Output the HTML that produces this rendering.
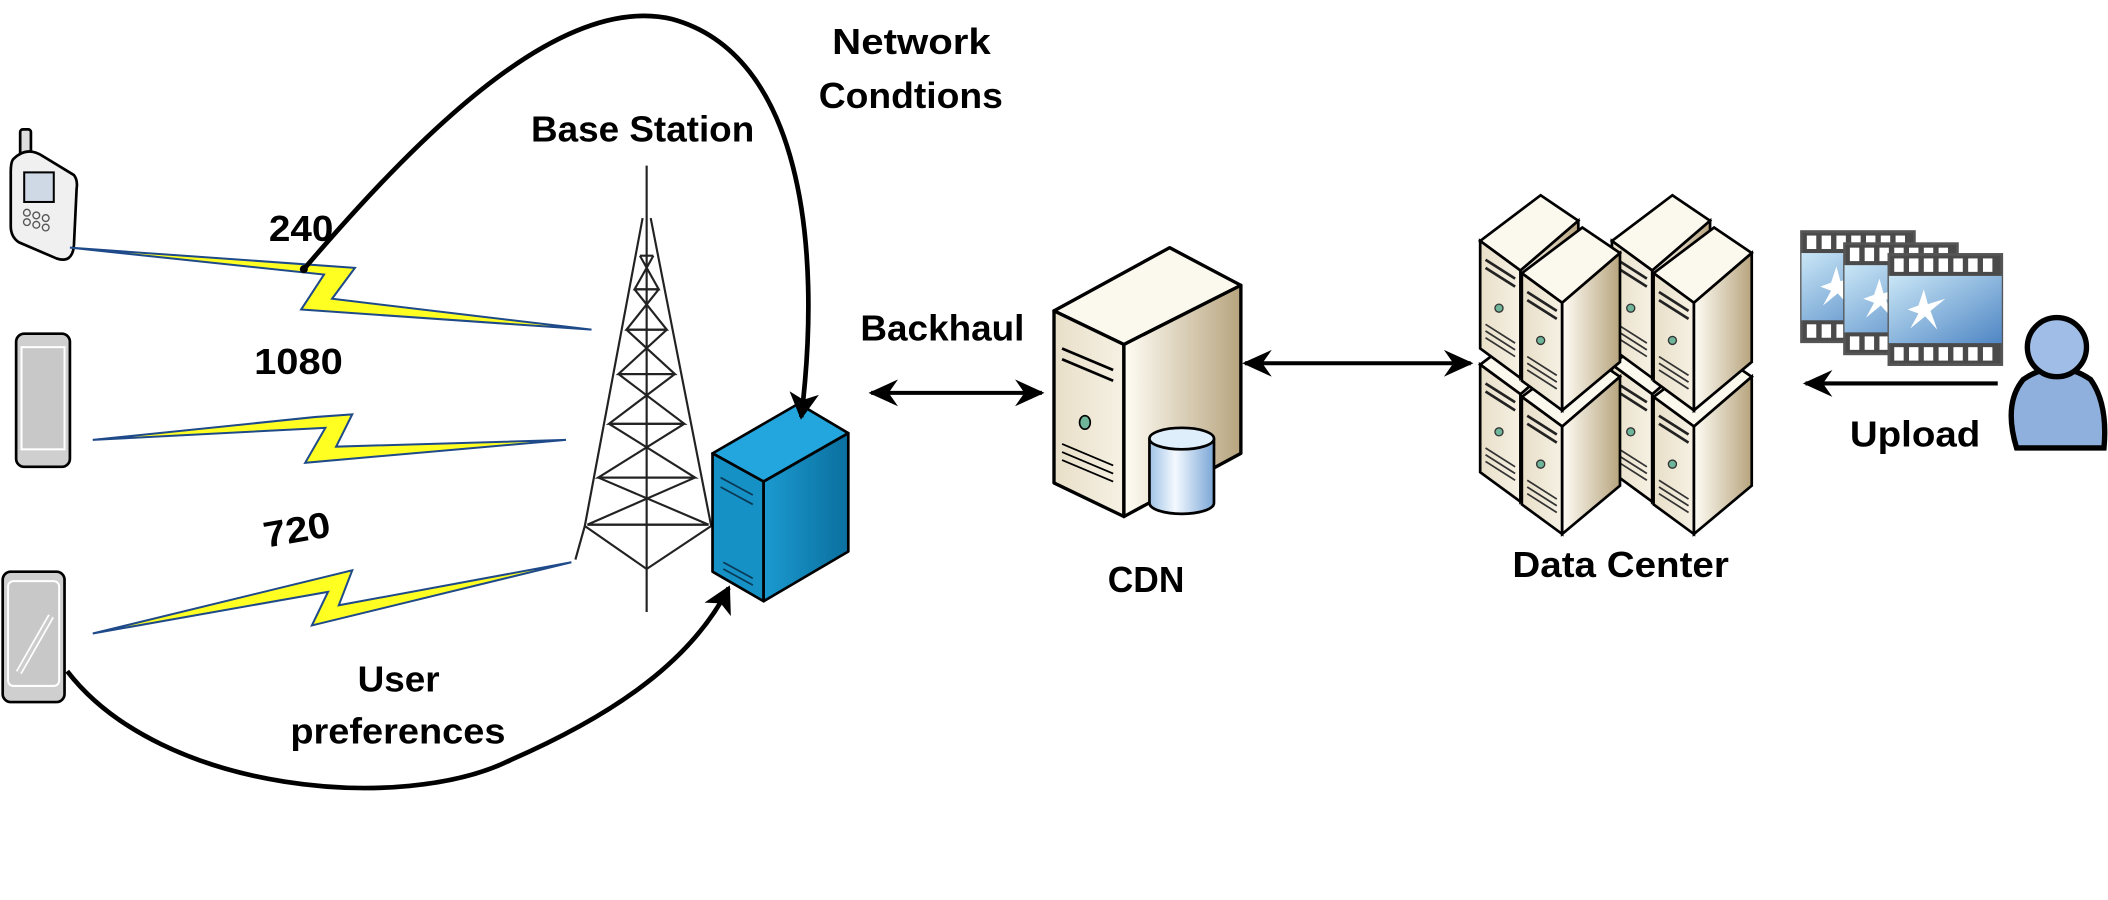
<!DOCTYPE html>
<html><head><meta charset="utf-8"><style>
html,body{margin:0;padding:0;background:#fff;}
svg{display:block;}
text{font-family:"Liberation Sans",sans-serif;font-weight:bold;fill:#000;font-size:27px;}
</style></head><body>
<svg width="2108" height="900" viewBox="0 0 1568 669" xmlns="http://www.w3.org/2000/svg">
<defs>
<marker id="ah" markerWidth="22" markerHeight="20" refX="20" refY="10" orient="auto-start-reverse" markerUnits="userSpaceOnUse" viewBox="0 0 22 20"><path d="M0,0 L22,10 L0,20 L7,10z" fill="#000"/></marker>
<marker id="bh" markerWidth="20" markerHeight="22" refX="18" refY="11" orient="auto" markerUnits="userSpaceOnUse" viewBox="0 0 20 22"><path d="M0,0 L20,11 L0,22 L5,11z" fill="#000"/></marker>
<linearGradient id="beige" x1="0" x2="1"><stop offset="0" stop-color="#fffdf5"/><stop offset="1" stop-color="#b7a47e"/></linearGradient>
<linearGradient id="beigeF" x1="0" x2="1"><stop offset="0" stop-color="#e8dfc8"/><stop offset="1" stop-color="#f6f1e4"/></linearGradient>
<linearGradient id="blue" x1="0" x2="1"><stop offset="0" stop-color="#1b9ad0"/><stop offset="1" stop-color="#0b6f9e"/></linearGradient>
<linearGradient id="film" x1="0" x2="1" y1="0" y2="1"><stop offset="0" stop-color="#c9e6f6"/><stop offset="1" stop-color="#4f86c4"/></linearGradient>
<linearGradient id="cyl" x1="0" x2="1"><stop offset="0" stop-color="#9fc3e6"/><stop offset="0.4" stop-color="#f4f9ff"/><stop offset="1" stop-color="#7aa6d6"/></linearGradient>
<g id="srv">
  <path d="M0,34 L45,0 L73,19 L30,56 Z" fill="#fbf8ee" stroke="#000" stroke-width="2"/>
  <path d="M0,34 L30,56 L30,136 L0,114 Z" fill="url(#beigeF)" stroke="#000" stroke-width="2"/>
  <path d="M30,56 L73,19 L73,100 L30,136 Z" fill="url(#beige)" stroke="#000" stroke-width="2"/>
  <path d="M4,48 L26,62 M4,54 L26,68" stroke="#222" stroke-width="2"/>
  <circle cx="14" cy="84" r="3" fill="#6fb59a" stroke="#333"/>
  <path d="M4,96 L26,110 M4,101 L26,115 M4,106 L26,120" stroke="#333" stroke-width="1.3"/>
</g>
<g id="film1">
  <rect x="0" y="0" width="84" height="82" fill="#4a4a4a" stroke="#555" stroke-width="2"/>
  <rect x="0" y="16" width="84" height="50" fill="url(#film)"/>
  <g fill="#fff"><rect x="4" y="3" width="7" height="10"/><rect x="15" y="3" width="7" height="10"/><rect x="26" y="3" width="7" height="10"/><rect x="37" y="3" width="7" height="10"/><rect x="48" y="3" width="7" height="10"/><rect x="59" y="3" width="7" height="10"/><rect x="70" y="3" width="7" height="10"/>
  <rect x="4" y="69" width="7" height="10"/><rect x="15" y="69" width="7" height="10"/><rect x="26" y="69" width="7" height="10"/><rect x="37" y="69" width="7" height="10"/><rect x="48" y="69" width="7" height="10"/><rect x="59" y="69" width="7" height="10"/><rect x="70" y="69" width="7" height="10"/></g>
  <path d="M14,41 L22,38 L26,26 L29,37 L42,33 L31,42 L36,56 L27,46 L16,55 L22,44Z" fill="#fff"/>
</g>
</defs>

<!-- Phones -->
<g stroke="#000" stroke-width="2">
  <rect x="15" y="96" width="8" height="20" rx="2" fill="#ddd"/>
  <path d="M10,118 Q20,108 32,116 L55,130 Q58,134 57,140 L55,182 Q54,196 42,192 L14,180 Q8,176 8,168 L8,128 Q8,120 10,118Z" fill="#f0f0f0"/>
  <rect x="18" y="128" width="22" height="22" fill="#cfd9e6" stroke-width="1.5"/>
  <rect x="12" y="248" width="40" height="99" rx="6" fill="#cfcfcf"/>
  <rect x="16" y="258" width="32" height="76" fill="#c8c8c8" stroke="#fff" stroke-width="1.5"/>
  <rect x="2" y="425" width="46" height="97" rx="6" fill="#cfcfcf"/>
  <rect x="6" y="432" width="38" height="78" rx="4" fill="#c8c8c8" stroke="#fff" stroke-width="1.5"/>
</g>
<path d="M14,500 L38,458" stroke="#fff" stroke-width="5"/><path d="M14,500 L38,458" stroke="#ccc" stroke-width="2.5"/>
<g fill="none" stroke="#555" stroke-width="1"><circle cx="20" cy="158" r="2.5"/><circle cx="27" cy="160" r="2.5"/><circle cx="34" cy="162" r="2.5"/><circle cx="20" cy="165" r="2.5"/><circle cx="27" cy="167" r="2.5"/><circle cx="34" cy="169" r="2.5"/></g>

<!-- Lightning bolts -->
<g fill="#ffff22" stroke="#1f4a8a" stroke-width="1.5" stroke-linejoin="miter">
  <path d="M52,184 L264,199 L247,222 L440,245 L224,230 L241,204 Z"/>
  <path d="M69,327 L234,310 L262,308 L250,332 L421,327 L227,344 L242,318 Z"/>
  <path d="M69,471 L262,424 L252,450 L425,418 L232,465 L244,440 Z"/>
</g>

<!-- Tower -->
<g stroke="#222" stroke-width="1.6" fill="none">
  <line x1="481" y1="123" x2="481" y2="455"/>
  <path d="M478,162 L435,391 L428,416 M484,162 L529,391"/>
  <path d="M435,391 L481,423 L529,391"/>
  <path d="M476,190 L486,190 M472,215 L490,215 M466,245 L496,245 M460,278 L502,278 M453,315 L509,315 M445,355 L517,355 M437,390 L527,390"/>
  <path d="M476,190 L490,215 L472,215 L486,190 M472,215 L496,245 L466,245 L490,215 M466,245 L502,278 L460,278 L496,245 M460,278 L509,315 L453,315 L502,278 M453,315 L517,355 L445,355 L509,315 M445,355 L527,390 L437,390 L517,355"/>
</g>

<!-- Blue server -->
<g stroke="#000" stroke-width="2" stroke-linejoin="round">
  <path d="M530,337 L594,300 L631,322 L568,358 Z" fill="#23a6dd"/>
  <path d="M530,337 L568,358 L568,447 L530,425 Z" fill="#1591c6"/>
  <path d="M568,358 L631,322 L631,410 L568,447 Z" fill="url(#blue)"/>
  <path d="M536,355 L560,368 M536,362 L560,375 M538,418 L560,430 M538,423 L560,435" stroke="#0a3a55" stroke-width="1.3"/>
</g>

<!-- Curves -->
<path d="M226,200 C320,90 420,-5 500,14 C595,40 612,180 596,310" fill="none" stroke="#000" stroke-width="3.5" marker-end="url(#bh)"/>
<circle cx="226" cy="200" r="3" fill="#000"/>
<path d="M50,499 C120,590 300,605 380,565 C460,530 515,490 542,437" fill="none" stroke="#000" stroke-width="3.5" marker-end="url(#bh)"/>

<!-- CDN server -->
<g stroke="#000" stroke-width="2.5" stroke-linejoin="round">
  <path d="M784,231 L870,184 L923,212 L836,256 Z" fill="#fbf8ee"/>
  <path d="M784,231 L836,256 L836,384 L784,359 Z" fill="url(#beigeF)"/>
  <path d="M836,256 L923,212 L923,337 L836,384 Z" fill="url(#beige)"/>
  <path d="M790,259 L828,275 M790,267 L828,283" stroke-width="2"/>
  <path d="M790,330 L828,346 M790,336 L828,352 M790,342 L828,358" stroke-width="1.3"/>
  <ellipse cx="807" cy="314" rx="4" ry="5" fill="#6fb59a" stroke-width="1.2"/>
  <path d="M855,326 L855,374 A24,8 0 0 0 903,374 L903,326" fill="url(#cyl)" stroke-width="2"/>
  <ellipse cx="879" cy="326" rx="24" ry="8" fill="#dfeefb" stroke-width="2"/>
</g>

<!-- Data center -->
<use href="#srv" x="1101" y="237"/>
<use href="#srv" x="1199" y="237"/>
<use href="#srv" x="1101" y="145"/>
<use href="#srv" x="1199" y="145"/>
<use href="#srv" x="1132" y="261"/>
<use href="#srv" x="1230" y="261"/>
<use href="#srv" x="1132" y="169"/>
<use href="#srv" x="1230" y="169"/>

<!-- Arrows -->
<g stroke="#000" stroke-width="3">
  <line x1="648" y1="292" x2="775" y2="292" marker-start="url(#ah)" marker-end="url(#ah)"/>
  <line x1="926" y1="270" x2="1094" y2="270" marker-start="url(#ah)" marker-end="url(#ah)"/>
  <line x1="1486" y1="285" x2="1343" y2="285" marker-end="url(#ah)"/>
</g>

<!-- Films -->
<use href="#film1" x="1340" y="172"/>
<use href="#film1" x="1372" y="181"/>
<use href="#film1" x="1405" y="189"/>

<!-- User -->
<g stroke="#000" stroke-width="4">
  <path d="M1500,333 Q1490,300 1505,282 Q1530,265 1555,282 Q1568,300 1565,333 Z" fill="#8fb0dc"/>
  <circle cx="1530" cy="258" r="22" fill="#9fbde6"/>
</g>

<!-- Text -->
<text x="619" y="40" textLength="118" lengthAdjust="spacingAndGlyphs">Network</text>
<text x="609" y="80" textLength="137" lengthAdjust="spacingAndGlyphs">Condtions</text>
<text x="395" y="105" textLength="166" lengthAdjust="spacingAndGlyphs">Base Station</text>
<text x="640" y="253" textLength="122" lengthAdjust="spacingAndGlyphs">Backhaul</text>
<text x="200" y="179" textLength="48" lengthAdjust="spacingAndGlyphs">240</text>
<text x="189" y="278" textLength="66" lengthAdjust="spacingAndGlyphs">1080</text>
<text x="196" y="403" textLength="50" lengthAdjust="spacingAndGlyphs" transform="rotate(-10 221 395)">720</text>
<text x="266" y="514" textLength="61" lengthAdjust="spacingAndGlyphs">User</text>
<text x="216" y="553" textLength="160" lengthAdjust="spacingAndGlyphs">preferences</text>
<text x="824" y="440" textLength="57" lengthAdjust="spacingAndGlyphs">CDN</text>
<text x="1125" y="429" textLength="161" lengthAdjust="spacingAndGlyphs">Data Center</text>
<text x="1376" y="332" textLength="97" lengthAdjust="spacingAndGlyphs">Upload</text>
</svg>
</body></html>
